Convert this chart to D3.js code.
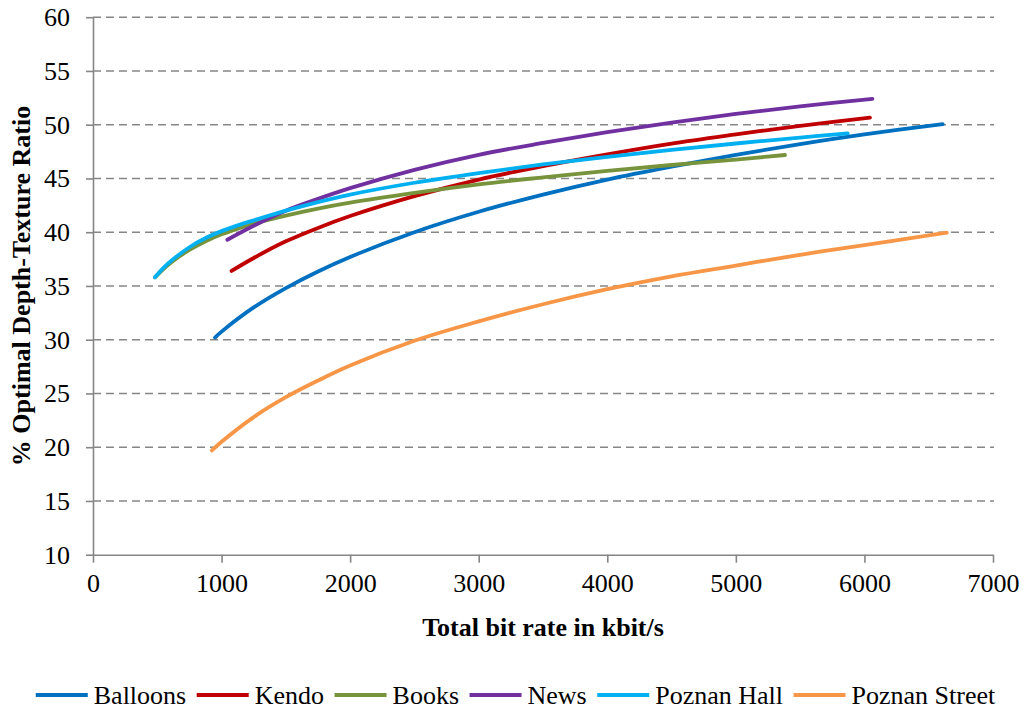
<!DOCTYPE html>
<html>
<head>
<meta charset="utf-8">
<script src="https://cdn.jsdelivr.net/npm/d3@7/dist/d3.min.js"></script>
<style>
  html, body { margin: 0; padding: 0; background: #fff; }
  svg text { font-family: "Liberation Serif", "Times New Roman", Tinos, "DejaVu Serif", "Noto Serif", serif; }
</style>
</head>
<body>
<svg id="chart" width="1026" height="711"></svg>
<script>
// Series: total bit rate (kbit/s) and % optimal depth-texture ratio
const seriesNames = ["Balloons", "Kendo", "Books", "News", "Poznan Hall", "Poznan Street"];
const seriesColors = ["#0070C0", "#C00000", "#77933C", "#7030A0", "#00B0F0", "#F79646"];

const balloonsRate  = [949, 1000, 1250, 1500, 1750, 2000, 2500, 3000, 3500, 4000, 4500, 5000, 5500, 6000, 6609];
const balloonsRatio = [30.2, 30.75, 33.0, 34.8, 36.35, 37.7, 40.0, 41.9, 43.5, 44.9, 46.1, 47.2, 48.2, 49.1, 50.05];

const kendoRate  = [1078, 1250, 1500, 1750, 2000, 2500, 3000, 3500, 4000, 4500, 5000, 5500, 6043];
const kendoRatio = [36.4, 37.6, 39.15, 40.4, 41.5, 43.35, 44.9, 46.15, 47.25, 48.25, 49.1, 49.9, 50.65];

const booksRate  = [482, 550, 625, 750, 884, 1000, 1143, 1250, 1500, 1750, 2000, 2500, 3000, 3500, 4000, 4500, 5000, 5382];
const booksRatio = [35.8, 36.6, 37.35, 38.35, 39.2, 39.8, 40.4, 40.8, 41.55, 42.2, 42.75, 43.65, 44.45, 45.1, 45.7, 46.25, 46.75, 47.18];

const newsRate  = [1045, 1250, 1500, 1750, 2000, 2500, 3000, 3500, 4000, 4500, 5000, 5500, 6062];
const newsRatio = [39.3, 40.6, 42.0, 43.1, 44.1, 45.8, 47.2, 48.3, 49.3, 50.2, 51.0, 51.7, 52.4];

const hallRate  = [482, 550, 625, 750, 884, 1000, 1143, 1250, 1500, 1750, 2000, 2500, 3000, 3500, 4000, 4500, 5000, 5500, 5870];
const hallRatio = [35.8, 36.7, 37.5, 38.6, 39.5, 40.1, 40.7, 41.1, 42.0, 42.8, 43.5, 44.6, 45.5, 46.3, 47.0, 47.65, 48.25, 48.8, 49.2];

const streetRate  = [925, 1000, 1250, 1500, 1750, 2000, 2500, 3000, 3500, 4000, 4500, 5000, 5500, 6000, 6640];
const streetRatio = [19.7, 20.5, 22.8, 24.65, 26.2, 27.6, 29.9, 31.7, 33.3, 34.7, 35.9, 36.9, 37.9, 38.8, 39.95];

const xTicks = [0, 1000, 2000, 3000, 4000, 5000, 6000, 7000];
const yTicks = [10, 15, 20, 25, 30, 35, 40, 45, 50, 55, 60];

const xTitle = "Total bit rate in kbit/s";
const yTitle = "% Optimal Depth-Texture Ratio";

const rates  = [balloonsRate, kendoRate, booksRate, newsRate, hallRate, streetRate];
const ratios = [balloonsRatio, kendoRatio, booksRatio, newsRatio, hallRatio, streetRatio];
const series = seriesNames.map((name, i) => ({
  name,
  color: seriesColors[i],
  points: rates[i].map((r, j) => ({ x: r, y: ratios[i][j] }))
}));

const svg = d3.select("#chart");
const plot = { left: 93, right: 993, top: 17.2, bottom: 554.7 };
const axisColor = "#868686";
const fontSize = "26px";

const x = d3.scaleLinear().domain([0, 7000]).range([plot.left, plot.right]);
const y = d3.scaleLinear().domain([10, 60]).range([plot.bottom, plot.top]);

// Dashed horizontal gridlines
svg.append("g")
  .selectAll("line")
  .data(yTicks.filter(t => t > 10))
  .join("line")
  .attr("x1", plot.left)
  .attr("x2", plot.right + 1)
  .attr("y1", d => y(d))
  .attr("y2", d => y(d))
  .attr("stroke", axisColor)
  .attr("stroke-width", 1.6)
  .attr("stroke-dasharray", "8,5");

// Y axis
const yAxis = svg.append("g")
  .attr("transform", `translate(${plot.left},0)`)
  .call(d3.axisLeft(y).tickValues(yTicks).tickSize(7).tickPadding(16).tickSizeOuter(0));
yAxis.attr("font-family", null).attr("font-size", null);
yAxis.select(".domain").attr("stroke", axisColor).attr("stroke-width", 1.6);
yAxis.selectAll(".tick line").attr("stroke", axisColor).attr("stroke-width", 1.6);
yAxis.selectAll(".tick text").attr("fill", "#000").style("font-size", fontSize);

// X axis
const xAxis = svg.append("g")
  .attr("transform", `translate(0,${plot.bottom})`)
  .call(d3.axisBottom(x).tickValues(xTicks).tickFormat(d3.format("d")).tickSize(8).tickPadding(11).tickSizeOuter(0));
xAxis.attr("font-family", null).attr("font-size", null);
xAxis.select(".domain").attr("stroke", axisColor).attr("stroke-width", 1.6);
xAxis.selectAll(".tick line").attr("stroke", axisColor).attr("stroke-width", 1.6);
xAxis.selectAll(".tick text").attr("fill", "#000").style("font-size", fontSize);

// Curves
const line = d3.line()
  .x(d => x(d.x))
  .y(d => y(d.y))
  .curve(d3.curveCatmullRom.alpha(0.5));

svg.append("g")
  .selectAll("path")
  .data(series)
  .join("path")
  .attr("d", d => line(d.points))
  .attr("fill", "none")
  .attr("stroke", d => d.color)
  .attr("stroke-width", 3.8)
  .attr("stroke-linecap", "round")
  .attr("stroke-linejoin", "round");

// Axis titles
svg.append("text")
  .attr("x", (plot.left + plot.right) / 2)
  .attr("y", 636)
  .attr("text-anchor", "middle")
  .style("font-size", fontSize)
  .style("font-weight", "bold")
  .text(xTitle);

svg.append("text")
  .attr("transform", `translate(30,${(plot.top + plot.bottom) / 2}) rotate(-90)`)
  .attr("text-anchor", "middle")
  .style("font-size", fontSize)
  .style("font-weight", "bold")
  .text(yTitle);

// Legend, centred below the plot
const legend = svg.append("g");
const swatchW = 52, swatchGap = 6, itemGap = 10.5;
let cursor = 0;
series.forEach(s => {
  const g = legend.append("g").attr("transform", `translate(${cursor},0)`);
  g.append("line")
    .attr("x1", 0).attr("x2", swatchW)
    .attr("y1", 0).attr("y2", 0)
    .attr("stroke", s.color)
    .attr("stroke-width", 3.8);
  const t = g.append("text")
    .attr("x", swatchW + swatchGap)
    .attr("y", 9)
    .style("font-size", fontSize)
    .text(s.name);
  cursor += swatchW + swatchGap + t.node().getComputedTextLength() + itemGap;
});
const legendWidth = cursor - itemGap;
legend.attr("transform", `translate(${515.5 - legendWidth / 2},695)`);
</script>
</body>
</html>
